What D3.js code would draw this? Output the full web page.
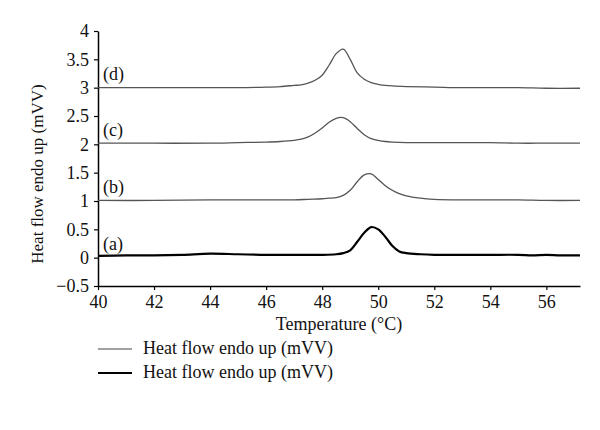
<!DOCTYPE html>
<html>
<head>
<meta charset="utf-8">
<script src="https://cdn.jsdelivr.net/npm/d3@7"></script>
<style>
  body { margin: 0; background: #fff; }
  text { font-family: "Liberation Serif", "DejaVu Serif", serif; fill: #111; }
</style>
</head>
<body>
<script>
// temperature (°C) and heat flow (mVV)
const tempD = [40, 42, 44, 45, 46, 46.5, 47, 47.25, 47.5, 47.75, 48, 48.25, 48.5, 48.75, 49, 49.25, 49.5, 49.75, 50, 50.25, 50.5, 51, 52, 53, 54, 55, 56, 57.2];
const flowD = [3.0, 3.0, 3.0, 3.0, 3.01, 3.02, 3.04, 3.05, 3.08, 3.13, 3.22, 3.4, 3.6, 3.68, 3.5, 3.26, 3.15, 3.09, 3.06, 3.04, 3.03, 3.02, 3.01, 3.0, 3.0, 3.0, 2.99, 2.99];

const tempC = [40, 42, 44, 45, 46, 46.5, 47, 47.25, 47.5, 47.75, 48, 48.25, 48.5, 48.75, 49, 49.25, 49.5, 49.75, 50, 50.25, 50.5, 51, 52, 53, 54, 55, 56, 57.2];
const flowC = [2.02, 2.02, 2.02, 2.03, 2.04, 2.05, 2.07, 2.09, 2.13, 2.2, 2.29, 2.39, 2.46, 2.47, 2.4, 2.28, 2.17, 2.1, 2.07, 2.05, 2.04, 2.03, 2.03, 2.03, 2.03, 2.02, 2.02, 2.02];

const tempB = [40, 42, 44, 46, 47, 47.5, 48, 48.25, 48.5, 48.75, 49, 49.25, 49.5, 49.75, 50, 50.25, 50.5, 50.75, 51, 51.5, 52, 53, 54, 55, 56, 57.2];
const flowB = [1.01, 1.01, 1.02, 1.02, 1.02, 1.03, 1.04, 1.05, 1.06, 1.1, 1.19, 1.34, 1.46, 1.48, 1.38, 1.27, 1.19, 1.13, 1.09, 1.05, 1.03, 1.02, 1.02, 1.02, 1.01, 1.01];

const tempA = [40, 41, 42, 43, 44, 45, 46, 47, 48, 48.5, 48.75, 49, 49.25, 49.5, 49.75, 50, 50.25, 50.5, 50.75, 51, 51.5, 52, 53, 54, 55, 55.5, 56, 56.5, 57.2];
const flowA = [0.03, 0.04, 0.04, 0.05, 0.07, 0.06, 0.05, 0.05, 0.05, 0.06, 0.08, 0.13, 0.28, 0.44, 0.54, 0.5, 0.37, 0.21, 0.11, 0.08, 0.06, 0.05, 0.05, 0.05, 0.05, 0.04, 0.05, 0.04, 0.04];

const curveLabels = ["(a)", "(b)", "(c)", "(d)"];
const labelLevels = [0, 1, 2, 3];
const xTicks = [40, 42, 44, 46, 48, 50, 52, 54, 56];
const yTicks = [-0.5, 0, 0.5, 1, 1.5, 2, 2.5, 3, 3.5, 4];
const legendNames = ["Heat flow endo up (mVV)", "Heat flow endo up (mVV)"];

const width = 600, height = 430;
const margin = { left: 98, right: 20, top: 31, bottom: 144 };
const FONT = '"Liberation Serif", "DejaVu Serif", serif';

const svg = d3.select('body').append('svg')
  .attr('width', width)
  .attr('height', height);

const x = d3.scaleLinear().domain([40, 57.2]).range([margin.left, width - margin.right]);
const y = d3.scaleLinear().domain([-0.5, 4]).range([height - margin.bottom, margin.top]);

// axes
const xAxis = svg.append('g')
  .attr('transform', 'translate(0,' + y(-0.5) + ')')
  .call(d3.axisBottom(x).tickValues(xTicks).tickSize(4).tickSizeOuter(0).tickFormat(d3.format('d')))
  .attr('font-family', FONT);
xAxis.select('.domain').attr('stroke', '#000').attr('stroke-width', 1.5);
xAxis.selectAll('.tick line').attr('stroke', '#000').attr('stroke-width', 1.2);
xAxis.selectAll('.tick text').attr('font-size', 18).attr('y', 9).attr('fill', '#111');

const yAxis = svg.append('g')
  .attr('transform', 'translate(' + x(40) + ',0)')
  .call(d3.axisLeft(y).tickValues(yTicks).tickSize(4).tickSizeOuter(0)
    .tickFormat(d => d < 0 ? '\u22120.5' : d3.format('')(d)))
  .attr('font-family', FONT);
yAxis.select('.domain').attr('stroke', '#000').attr('stroke-width', 1.5);
yAxis.selectAll('.tick line').attr('stroke', '#000').attr('stroke-width', 1.2);
yAxis.selectAll('.tick text').attr('font-size', 18).attr('x', -9).attr('fill', '#111');

// axis titles
svg.append('text')
  .attr('x', (x(40) + x(57.2)) / 2)
  .attr('y', 330)
  .attr('text-anchor', 'middle')
  .attr('font-size', 18)
  .text('Temperature (\u00B0C)');

svg.append('text')
  .attr('transform', 'translate(43,174) rotate(-90)')
  .attr('text-anchor', 'middle')
  .attr('font-size', 17)
  .text('Heat flow endo up (mVV)');

// curves
const line = d3.line()
  .x(d => x(d[0]))
  .y(d => y(d[1]))
  .curve(d3.curveCatmullRom.alpha(0.5));

const series = [
  { t: tempD, v: flowD, color: '#555', w: 1.3 },
  { t: tempC, v: flowC, color: '#555', w: 1.3 },
  { t: tempB, v: flowB, color: '#555', w: 1.3 },
  { t: tempA, v: flowA, color: '#000', w: 2.2 }
];

series.forEach(s => {
  svg.append('path')
    .datum(d3.zip(s.t, s.v))
    .attr('d', line)
    .attr('fill', 'none')
    .attr('stroke', s.color)
    .attr('stroke-width', s.w);
});

// (a)..(d) labels
curveLabels.forEach((lab, i) => {
  svg.append('text')
    .attr('x', x(40) + 5)
    .attr('y', y(labelLevels[i]) - 8)
    .attr('font-size', 18)
    .text(lab);
});

// legend
const legendStyles = [{ color: '#444', w: 1.2 }, { color: '#000', w: 2.2 }];
legendNames.forEach((name, i) => {
  const ly = 349 + i * 24;
  svg.append('line')
    .attr('x1', 98).attr('x2', 132)
    .attr('y1', ly).attr('y2', ly)
    .attr('stroke', legendStyles[i].color)
    .attr('stroke-width', legendStyles[i].w);
  svg.append('text')
    .attr('x', 143)
    .attr('y', ly + 5)
    .attr('font-size', 18)
    .text(name);
});
</script>
</body>
</html>
